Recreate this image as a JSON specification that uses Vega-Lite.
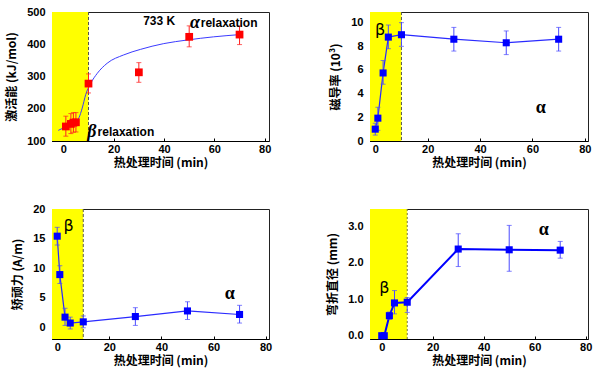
{
  "$schema": "https://vega.github.io/schema/vega-lite/v6.json",
  "padding": {"left": 5, "top": 5, "right": 5, "bottom": 5},
  "background": "white",
  "config": {
    "view": {"stroke": "#222222", "strokeWidth": 1},
    "axis": {
      "grid": false,
      "labelFont": "Liberation Sans",
      "labelFontWeight": "bold",
      "labelFontSize": 11,
      "labelColor": "#000000",
      "labelOverlap": false,
      "titleFont": "Noto Sans CJK SC",
      "titleFontSize": 12,
      "titleFontWeight": "bold",
      "titleColor": "#000000",
      "domainColor": "#000000",
      "tickColor": "#000000",
      "tickSize": -3,
      "labelPadding": 5
    },
    "axisX": {"titlePadding": 3},
    "axisY": {"titlePadding": 8, "labelPadding": 10}
  },
  "datasets": {
    "act": [
      {"t": 1, "v": 145, "lo": 115, "hi": 177},
      {"t": 3, "v": 153, "lo": 123, "hi": 185},
      {"t": 4, "v": 157, "lo": 127, "hi": 188},
      {"t": 5, "v": 158, "lo": 128, "hi": 188},
      {"t": 10, "v": 278, "lo": 249, "hi": 308},
      {"t": 30, "v": 313, "lo": 282, "hi": 343},
      {"t": 50, "v": 423, "lo": 392, "hi": 457},
      {"t": 70, "v": 430, "lo": 399, "hi": 457}
    ],
    "fit": [
      {"t": -2, "v": 133},
      {"t": 0.2, "v": 141},
      {"t": 4.2, "v": 156},
      {"t": 6.2, "v": 172},
      {"t": 7.5, "v": 202},
      {"t": 8.9, "v": 244},
      {"t": 10.9, "v": 279},
      {"t": 13.5, "v": 310},
      {"t": 17.4, "v": 341},
      {"t": 24, "v": 367},
      {"t": 30.6, "v": 384},
      {"t": 39.9, "v": 402},
      {"t": 49.1, "v": 413},
      {"t": 59.7, "v": 423},
      {"t": 70.3, "v": 430}
    ],
    "perm": [
      {"t": 0, "v": 1.0, "lo": 0.5, "hi": 1.5},
      {"t": 1, "v": 1.93, "lo": 0.9, "hi": 2.85},
      {"t": 3, "v": 5.75, "lo": 4.8, "hi": 6.8},
      {"t": 5, "v": 8.78, "lo": 7.8, "hi": 9.8},
      {"t": 10, "v": 8.98, "lo": 8.0, "hi": 10.0},
      {"t": 30, "v": 8.6, "lo": 7.6, "hi": 9.6},
      {"t": 50, "v": 8.3, "lo": 7.3, "hi": 9.3},
      {"t": 70, "v": 8.6, "lo": 7.6, "hi": 9.6}
    ],
    "coer": [
      {"t": 0, "v": 15.4, "lo": 13.9, "hi": 16.9},
      {"t": 1, "v": 8.9, "lo": 7.4, "hi": 10.4},
      {"t": 3, "v": 1.7, "lo": 0.3, "hi": 3.2},
      {"t": 5, "v": 0.7, "lo": -0.3, "hi": 1.7},
      {"t": 10, "v": 0.9, "lo": -0.1, "hi": 1.9},
      {"t": 30, "v": 1.8, "lo": 0.3, "hi": 3.3},
      {"t": 50, "v": 2.75, "lo": 1.3, "hi": 4.3},
      {"t": 70, "v": 2.15, "lo": 0.7, "hi": 3.7}
    ],
    "bend": [
      {"t": 0, "v": 0.0, "lo": 0.0, "hi": 0.0},
      {"t": 1, "v": 0.0, "lo": 0.0, "hi": 0.0},
      {"t": 3, "v": 0.55, "lo": 0.45, "hi": 0.65},
      {"t": 5, "v": 0.9, "lo": 0.6, "hi": 1.24},
      {"t": 10, "v": 0.92, "lo": 0.64, "hi": 1.05},
      {"t": 30, "v": 2.38, "lo": 1.9, "hi": 2.8},
      {"t": 50, "v": 2.36, "lo": 1.77, "hi": 3.03},
      {"t": 70, "v": 2.35, "lo": 2.13, "hi": 2.59}
    ]
  },
  "columns": 2,
  "bounds": "flush",
  "spacing": {"row": 68, "column": 101},
  "concat": [
    {
      "width": 217,
      "height": 129,
      "layer": [
        {
          "data": {"values": [{"a": -4.5, "b": 10}]},
          "mark": {"type": "rect", "color": "#ffff00"},
          "encoding": {
            "x": {"field": "a", "type": "quantitative", "scale": {"domain": [-4.5, 81.7], "nice": false},
              "axis": {"values": [0, 20, 40, 60, 80]}, "title": "热处理时间 (min)"},
            "x2": {"field": "b"}
          }
        },
        {
          "data": {"values": [{"b": 10}]},
          "mark": {"type": "rule", "color": "#555555", "strokeDash": [3, 2], "strokeWidth": 1},
          "encoding": {"x": {"field": "b", "type": "quantitative", "title": "热处理时间 (min)"}}
        },
        {
          "data": {"name": "fit"},
          "mark": {"type": "line", "color": "#3b3bff", "strokeWidth": 1, "interpolate": "monotone"},
          "encoding": {
            "x": {"field": "t", "type": "quantitative", "title": "热处理时间 (min)"},
            "y": {"field": "v", "type": "quantitative", "scale": {"domain": [100, 500], "nice": false},
              "axis": {"values": [100, 200, 300, 400, 500]}, "title": "激活能 (kJ/mol)"}
          }
        },
        {
          "data": {"name": "act"},
          "mark": {"type": "errorbar", "color": "#ff2020", "ticks": {"size": 5}, "thickness": 1},
          "encoding": {
            "x": {"field": "t", "type": "quantitative", "title": "热处理时间 (min)"},
            "y": {"field": "lo", "type": "quantitative", "title": "激活能 (kJ/mol)", "axis": {"values": [100, 200, 300, 400, 500]}},
            "y2": {"field": "hi"}
          }
        },
        {
          "data": {"name": "act"},
          "mark": {"type": "square", "color": "#ff0000", "filled": true, "opacity": 1, "size": 60},
          "encoding": {
            "x": {"field": "t", "type": "quantitative", "title": "热处理时间 (min)"},
            "y": {"field": "v", "type": "quantitative", "title": "激活能 (kJ/mol)", "axis": {"values": [100, 200, 300, 400, 500]}}
          }
        },
        {
          "data": {"values": [
            {"x": 31.7, "y": 472, "s": "733 K"},
            {"x": 54.6, "y": 466, "s": "relaxation"},
            {"x": 13.6, "y": 128, "s": "relaxation"}
          ]},
          "mark": {"type": "text", "align": "left", "baseline": "middle", "font": "Liberation Sans", "fontWeight": "bold", "fontSize": 12, "color": "#000000"},
          "encoding": {
            "x": {"field": "x", "type": "quantitative", "title": "热处理时间 (min)"},
            "y": {"field": "y", "type": "quantitative", "title": "激活能 (kJ/mol)", "axis": {"values": [100, 200, 300, 400, 500]}},
            "text": {"field": "s"}
          }
        },
        {
          "data": {"values": [
            {"x": 50.3, "y": 466, "s": "α"},
            {"x": 9.5, "y": 128, "s": "β"}
          ]},
          "mark": {"type": "text", "align": "left", "baseline": "middle", "font": "Liberation Serif", "fontStyle": "italic", "fontWeight": "bold", "fontSize": 18, "color": "#000000"},
          "encoding": {
            "x": {"field": "x", "type": "quantitative", "title": "热处理时间 (min)"},
            "y": {"field": "y", "type": "quantitative", "title": "激活能 (kJ/mol)", "axis": {"values": [100, 200, 300, 400, 500]}},
            "text": {"field": "s"}
          }
        }
      ]
    },
    {
      "width": 218,
      "height": 129,
      "layer": [
        {
          "data": {"values": [{"a": -2, "b": 10}]},
          "mark": {"type": "rect", "color": "#ffff00"},
          "encoding": {
            "x": {"field": "a", "type": "quantitative", "scale": {"domain": [-2, 81.2], "nice": false},
              "axis": {"values": [0, 20, 40, 60, 80]}, "title": "热处理时间 (min)"},
            "x2": {"field": "b"}
          }
        },
        {
          "data": {"values": [{"b": 10}]},
          "mark": {"type": "rule", "color": "#555555", "strokeDash": [3, 2], "strokeWidth": 1},
          "encoding": {"x": {"field": "b", "type": "quantitative", "title": "热处理时间 (min)"}}
        },
        {
          "data": {"name": "perm"},
          "mark": {"type": "line", "color": "#2a2aff", "strokeWidth": 1.2},
          "encoding": {
            "x": {"field": "t", "type": "quantitative", "title": "热处理时间 (min)"},
            "y": {"field": "v", "type": "quantitative", "scale": {"domain": [0, 10.9], "nice": false},
              "axis": {"values": [0, 2, 4, 6, 8, 10]}, "title": "磁导率 (10³)"}
          }
        },
        {
          "data": {"name": "perm"},
          "mark": {"type": "errorbar", "color": "#4a4aff", "ticks": {"size": 5}, "thickness": 1},
          "encoding": {
            "x": {"field": "t", "type": "quantitative", "title": "热处理时间 (min)"},
            "y": {"field": "lo", "type": "quantitative", "title": "磁导率 (10³)", "axis": {"values": [0, 2, 4, 6, 8, 10]}},
            "y2": {"field": "hi"}
          }
        },
        {
          "data": {"name": "perm"},
          "mark": {"type": "square", "color": "#0000ff", "filled": true, "opacity": 1, "size": 50},
          "encoding": {
            "x": {"field": "t", "type": "quantitative", "title": "热处理时间 (min)"},
            "y": {"field": "v", "type": "quantitative", "title": "磁导率 (10³)", "axis": {"values": [0, 2, 4, 6, 8, 10]}}
          }
        },
        {
          "data": {"values": [
            {"x": 1.85, "y": 9.4, "s": "β"}
          ]},
          "mark": {"type": "text", "align": "center", "baseline": "middle", "font": "DejaVu Sans", "fontSize": 16, "color": "#000000"},
          "encoding": {
            "x": {"field": "x", "type": "quantitative", "title": "热处理时间 (min)"},
            "y": {"field": "y", "type": "quantitative", "title": "磁导率 (10³)", "axis": {"values": [0, 2, 4, 6, 8, 10]}},
            "text": {"field": "s"}
          }
        },
        {
          "data": {"values": [
            {"x": 63.2, "y": 2.76, "s": "α"}
          ]},
          "mark": {"type": "text", "align": "center", "baseline": "middle", "font": "Liberation Serif", "fontWeight": "bold", "fontSize": 18, "color": "#000000"},
          "encoding": {
            "x": {"field": "x", "type": "quantitative", "title": "热处理时间 (min)"},
            "y": {"field": "y", "type": "quantitative", "title": "磁导率 (10³)", "axis": {"values": [0, 2, 4, 6, 8, 10]}},
            "text": {"field": "s"}
          }
        }
      ]
    },
    {
      "width": 217,
      "height": 130,
      "layer": [
        {
          "data": {"values": [{"a": -2, "b": 10}]},
          "mark": {"type": "rect", "color": "#ffff00"},
          "encoding": {
            "x": {"field": "a", "type": "quantitative", "scale": {"domain": [-2, 81.3], "nice": false},
              "axis": {"values": [0, 20, 40, 60, 80]}, "title": "热处理时间 (min)"},
            "x2": {"field": "b"}
          }
        },
        {
          "data": {"values": [{"b": 10}]},
          "mark": {"type": "rule", "color": "#555555", "strokeDash": [3, 2], "strokeWidth": 1},
          "encoding": {"x": {"field": "b", "type": "quantitative", "title": "热处理时间 (min)"}}
        },
        {
          "data": {"name": "coer"},
          "mark": {"type": "line", "color": "#2a2aff", "strokeWidth": 1.2},
          "encoding": {
            "x": {"field": "t", "type": "quantitative", "title": "热处理时间 (min)"},
            "y": {"field": "v", "type": "quantitative", "scale": {"domain": [-2, 20], "nice": false},
              "axis": {"values": [0, 5, 10, 15, 20]}, "title": "矫顽力 (A/m)"}
          }
        },
        {
          "data": {"name": "coer"},
          "mark": {"type": "errorbar", "color": "#4a4aff", "ticks": {"size": 5}, "thickness": 1},
          "encoding": {
            "x": {"field": "t", "type": "quantitative", "title": "热处理时间 (min)"},
            "y": {"field": "lo", "type": "quantitative", "title": "矫顽力 (A/m)", "axis": {"values": [0, 5, 10, 15, 20]}},
            "y2": {"field": "hi"}
          }
        },
        {
          "data": {"name": "coer"},
          "mark": {"type": "square", "color": "#0000ff", "filled": true, "opacity": 1, "size": 50},
          "encoding": {
            "x": {"field": "t", "type": "quantitative", "title": "热处理时间 (min)"},
            "y": {"field": "v", "type": "quantitative", "title": "矫顽力 (A/m)", "axis": {"values": [0, 5, 10, 15, 20]}}
          }
        },
        {
          "data": {"values": [
            {"x": 4.4, "y": 17.2, "s": "β"}
          ]},
          "mark": {"type": "text", "align": "center", "baseline": "middle", "font": "DejaVu Sans", "fontSize": 16, "color": "#000000"},
          "encoding": {
            "x": {"field": "x", "type": "quantitative", "title": "热处理时间 (min)"},
            "y": {"field": "y", "type": "quantitative", "title": "矫顽力 (A/m)", "axis": {"values": [0, 5, 10, 15, 20]}},
            "text": {"field": "s"}
          }
        },
        {
          "data": {"values": [
            {"x": 66.2, "y": 5.6, "s": "α"}
          ]},
          "mark": {"type": "text", "align": "center", "baseline": "middle", "font": "Liberation Serif", "fontWeight": "bold", "fontSize": 18, "color": "#000000"},
          "encoding": {
            "x": {"field": "x", "type": "quantitative", "title": "热处理时间 (min)"},
            "y": {"field": "y", "type": "quantitative", "title": "矫顽力 (A/m)", "axis": {"values": [0, 5, 10, 15, 20]}},
            "text": {"field": "s"}
          }
        }
      ]
    },
    {
      "width": 218,
      "height": 130,
      "layer": [
        {
          "data": {"values": [{"a": -4.6, "b": 10}]},
          "mark": {"type": "rect", "color": "#ffff00"},
          "encoding": {
            "x": {"field": "a", "type": "quantitative", "scale": {"domain": [-4.6, 80.9], "nice": false},
              "axis": {"values": [0, 20, 40, 60, 80]}, "title": "热处理时间 (min)"},
            "x2": {"field": "b"}
          }
        },
        {
          "data": {"values": [{"b": 10}]},
          "mark": {"type": "rule", "color": "#777744", "strokeDash": [2, 2], "strokeWidth": 1},
          "encoding": {"x": {"field": "b", "type": "quantitative", "title": "热处理时间 (min)"}}
        },
        {
          "data": {"name": "bend"},
          "mark": {"type": "line", "color": "#0000ff", "strokeWidth": 2},
          "encoding": {
            "x": {"field": "t", "type": "quantitative", "title": "热处理时间 (min)"},
            "y": {"field": "v", "type": "quantitative", "scale": {"domain": [-0.09, 3.48], "nice": false},
              "axis": {"values": [0, 1, 2, 3], "format": ".1f"}, "title": "弯折直径 (mm)"}
          }
        },
        {
          "data": {"name": "bend"},
          "mark": {"type": "errorbar", "color": "#4a4aff", "ticks": {"size": 5}, "thickness": 1},
          "encoding": {
            "x": {"field": "t", "type": "quantitative", "title": "热处理时间 (min)"},
            "y": {"field": "lo", "type": "quantitative", "title": "弯折直径 (mm)", "axis": {"values": [0, 1, 2, 3], "format": ".1f"}},
            "y2": {"field": "hi"}
          }
        },
        {
          "data": {"name": "bend"},
          "mark": {"type": "square", "color": "#0000ff", "filled": true, "opacity": 1, "size": 50},
          "encoding": {
            "x": {"field": "t", "type": "quantitative", "title": "热处理时间 (min)"},
            "y": {"field": "v", "type": "quantitative", "title": "弯折直径 (mm)", "axis": {"values": [0, 1, 2, 3], "format": ".1f"}}
          }
        },
        {
          "data": {"values": [
            {"x": 1.0, "y": 1.3, "s": "β"}
          ]},
          "mark": {"type": "text", "align": "center", "baseline": "middle", "font": "DejaVu Sans", "fontSize": 16, "color": "#000000"},
          "encoding": {
            "x": {"field": "x", "type": "quantitative", "title": "热处理时间 (min)"},
            "y": {"field": "y", "type": "quantitative", "title": "弯折直径 (mm)", "axis": {"values": [0, 1, 2, 3], "format": ".1f"}},
            "text": {"field": "s"}
          }
        },
        {
          "data": {"values": [
            {"x": 63.6, "y": 2.91, "s": "α"}
          ]},
          "mark": {"type": "text", "align": "center", "baseline": "middle", "font": "Liberation Serif", "fontWeight": "bold", "fontSize": 18, "color": "#000000"},
          "encoding": {
            "x": {"field": "x", "type": "quantitative", "title": "热处理时间 (min)"},
            "y": {"field": "y", "type": "quantitative", "title": "弯折直径 (mm)", "axis": {"values": [0, 1, 2, 3], "format": ".1f"}},
            "text": {"field": "s"}
          }
        }
      ]
    }
  ]
}
